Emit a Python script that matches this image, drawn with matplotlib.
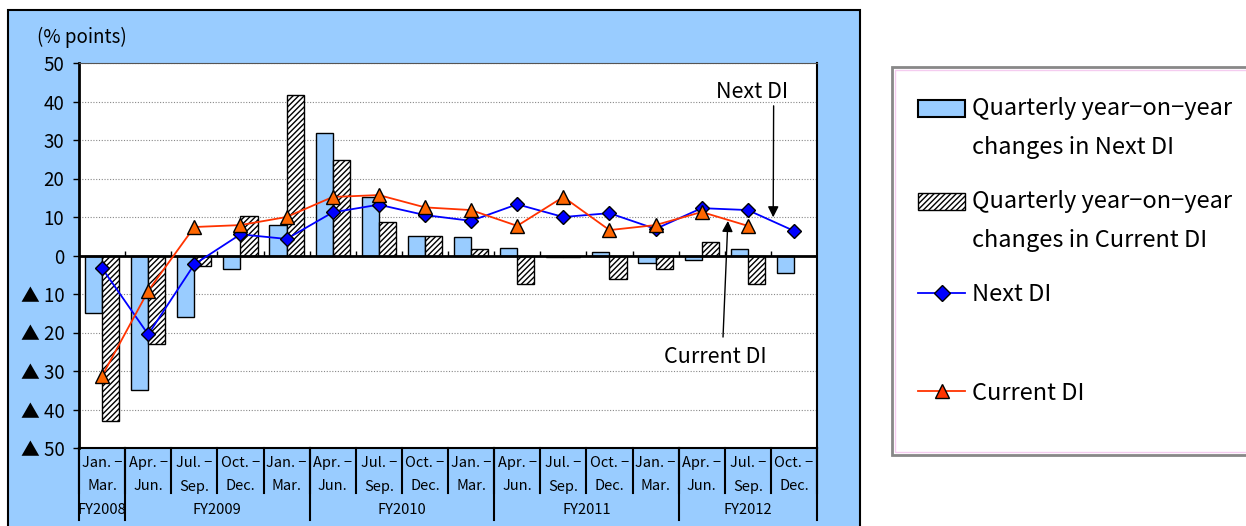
import matplotlib.pyplot as plt
import numpy as np
from matplotlib.patches import Rectangle, Patch
from matplotlib.lines import Line2D
from matplotlib.legend_handler import HandlerPatch

plt.rcParams['font.family'] = ['Noto Sans CJK JP', 'DejaVu Sans']
plt.rcParams['hatch.color'] = '#333333'
plt.rcParams['hatch.linewidth'] = 1.0

# quarters from Jan.-Mar. FY2008 to Oct.-Dec. FY2012
q_top = ['Jan. −', 'Apr. −', 'Jul. −', 'Oct. −'] * 4
q_bot = ['Mar.', 'Jun.', 'Sep.', 'Dec.'] * 4
fy_labels = ['FY2008', 'FY2009', 'FY2010', 'FY2011', 'FY2012']
fy_counts = [1, 4, 4, 4, 3]

next_chg = [-15, -35, -16, -3.6, 7.8, 31.8, 15.2, 5, 4.7, 2, -0.4, 0.8, -2, -1.2, 1.6, -4.6]
curr_chg = [-43, -23, -2.8, 10.2, 41.7, 24.7, 8.6, 5, 1.8, -7.5, -0.5, -6, -3.6, 3.5, -7.3, np.nan]
next_di = [-3.3, -20.5, -2.3, 5.5, 4.3, 11.2, 13.2, 10.5, 9, 13.3, 10, 11, 6.9, 12.3, 11.8, 6.4]
curr_di = [-31.3, -9.2, 7.4, 7.9, 10, 15.2, 15.7, 12.5, 11.8, 7.7, 15.2, 6.6, 7.9, 11.3, 7.7, np.nan]

W, H = 1246, 526
fig = plt.figure(figsize=(W / 100, H / 100), dpi=100)

# blue panel behind the chart and legend frame
fig.patches.append(Rectangle((8 / W, -0.02), 852 / W, (516 / H) + 0.02, transform=fig.transFigure,
                             facecolor='#99CCFF', edgecolor='black', lw=1.5, zorder=-2))
fig.patches.append(Rectangle((892 / W, 71 / H), 360 / W, 388 / H, transform=fig.transFigure,
                             facecolor='white', edgecolor='#888888', lw=2, zorder=-2))
fig.patches.append(Rectangle((895 / W, 74 / H), 360 / W, 382 / H, transform=fig.transFigure,
                             facecolor='none', edgecolor='#F5CCF0', lw=1, zorder=-1))

ax = fig.add_axes([79 / W, 78 / H, 738 / W, 385 / H], zorder=2)
x = np.arange(len(next_chg))
bw = 0.37

ax.bar(x - bw / 2, next_chg, bw, color='#99CCFF', edgecolor='black', lw=1, zorder=2)
ax.bar(x + bw / 2, curr_chg, bw, color='white', edgecolor='black', lw=1, hatch='//////', zorder=2)
ax.axhline(0, color='black', lw=2, zorder=2.5)
bounds = np.arange(-0.5, len(x), 1.0)
ax.vlines(bounds[1:-1], 0, 1.2, color='black', lw=1, zorder=2.5)

ax.plot(x, next_di, color='#0000FF', lw=1.3, marker='D', ms=7, mfc='#0000FF', mec='black', mew=1, zorder=4)
ax.plot(x, curr_di, color='#FF3300', lw=1.3, marker='^', ms=10, mfc='#FF6600', mec='black', mew=1, zorder=4)

ax.set_xlim(-0.5, len(x) - 0.5)
ax.set_ylim(-50, 50)
yt = np.arange(-50, 51, 10)
ax.set_yticks(yt)
ax.set_yticklabels([f'▲ {-v}' if v < 0 else str(v) for v in yt],
                   family=['Noto Sans CJK JP', 'DejaVu Sans'], fontsize=13.5)
ax.tick_params(axis='y', length=4.5, width=1, pad=6)
ax.set_xticks([])
ax.yaxis.grid(True, linestyle=(0, (1, 1.5)), color='#888888', lw=0.8)
ax.set_axisbelow(True)
for s in ['left', 'bottom', 'right']:
    ax.spines[s].set_color('black')
ax.spines['left'].set_linewidth(2)
ax.spines['bottom'].set_linewidth(1.5)
ax.spines['right'].set_linewidth(1.5)
ax.spines['top'].set_color('#555555')

fig.text(37 / W, 1 - 37 / H, '(% points)', fontsize=13.5, va='center', ha='left')

# category axis
tr = ax.get_xaxis_transform()
for b in bounds:
    ax.plot([b, b], [0, -0.117], color='black', lw=1.5, transform=tr, clip_on=False)
for i in x:
    ax.text(i, -0.04, q_top[i], transform=tr, ha='center', va='center', fontsize=10.5)
    ax.text(i, -0.1, q_bot[i], transform=tr, ha='center', va='center', fontsize=10.5)
start = -0.5
for lab, n in zip(fy_labels, fy_counts):
    ax.plot([start, start], [0, -0.187], color='black', lw=1.5, transform=tr, clip_on=False)
    ax.text(start + n / 2, -0.16, lab, transform=tr, ha='center', va='center', fontsize=10.5)
    start += n
ax.plot([start, start], [0, -0.187], color='black', lw=1.5, transform=tr, clip_on=False)

# callouts
ax.text(14.1, 42.5, 'Next DI', ha='center', va='center', fontsize=15.5)
ax.annotate('', xy=(14.55, 9.2), xytext=(14.56, 39.6),
            arrowprops=dict(arrowstyle='-|>', color='black', lw=1, mutation_scale=16))
ax.text(13.29, -26.4, 'Current DI', ha='center', va='center', fontsize=15.5)
ax.annotate('', xy=(13.57, 9.7), xytext=(13.46, -21.9),
            arrowprops=dict(arrowstyle='-|>', color='black', lw=1, mutation_scale=16))


# legend: box handles sit level with the first line of their two-line labels
def top_box(legend, orig_handle, xdescent, ydescent, width, height, fontsize):
    return Rectangle((-xdescent, -ydescent + 14.5), width, height)


h1 = [Patch(facecolor='#99CCFF', edgecolor='black', lw=1.5),
      Patch(facecolor='white', edgecolor='black', lw=1, hatch='//////'),
      Line2D([], [], color='#0000FF', lw=1.3, marker='D', ms=8, mfc='#0000FF', mec='black')]
l1 = ['Quarterly year−on−year\nchanges in Next DI',
      'Quarterly year−on−year\nchanges in Current DI', 'Next DI']
leg1 = fig.legend(h1, l1, loc='upper left', bbox_to_anchor=(918 / W, 1 - 97 / H), frameon=False,
                  fontsize=17, handlelength=2.0, handletextpad=0.3, labelspacing=1.3, numpoints=1,
                  borderpad=0, borderaxespad=0, handler_map={Patch: HandlerPatch(patch_func=top_box)})
for t in leg1.get_texts():
    t.set_linespacing(1.9)
h2 = [Line2D([], [], color='#FF3300', lw=1.3, marker='^', ms=10, mfc='#FF3300', mec='black')]
fig.legend(h2, ['Current DI'], loc='center left', bbox_to_anchor=(918 / W, 1 - 393 / H), frameon=False,
           fontsize=17, handlelength=2.0, handletextpad=0.3, numpoints=1, borderpad=0, borderaxespad=0)

plt.savefig('out.png', dpi=100)
